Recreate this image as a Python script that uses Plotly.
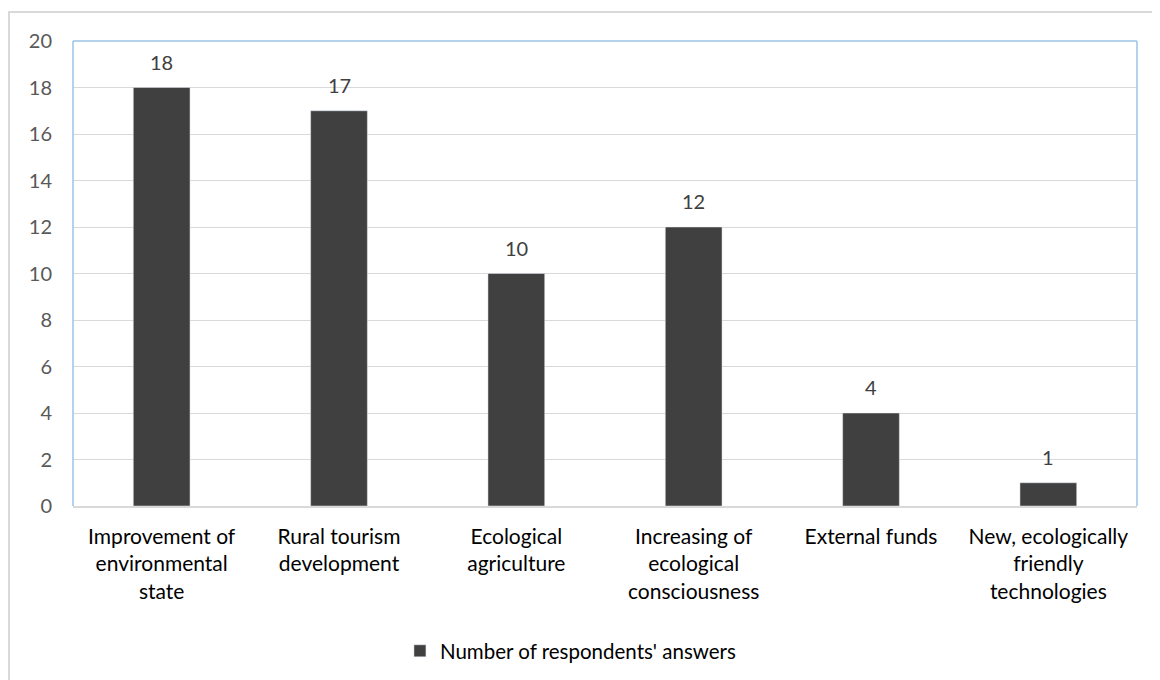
"""Number of respondents' answers by expected benefit"""
import plotly.graph_objects as go

categories = [
    "Improvement of<br>environmental<br>state",
    "Rural tourism<br>development",
    "Ecological<br>agriculture",
    "Increasing of<br>ecological<br>consciousness",
    "External funds",
    "New, ecologically<br>friendly<br>technologies",
]
answers = [18, 17, 10, 12, 4, 1]
y_ticks = list(range(0, 21, 2))

fig = go.Figure(
    go.Bar(
        x=categories,
        y=answers,
        name="Number of respondents' answers",
        marker_color="#404040",
        width=0.32,
    )
)

# data labels above the bars
for cat, val in zip(categories, answers):
    fig.add_annotation(x=cat, y=val, text=str(val), showarrow=False,
                       yanchor="bottom", yshift=12,
                       font=dict(size=20, color="#404040"))

# outer chart frame
fig.add_shape(type="rect", xref="paper", yref="paper",
              x0=-0.0602, x1=1.05, y0=-0.5, y1=1.0624,
              line=dict(color="#D9D9D9", width=2))
# blue plot-area frame (left, top, right)
for x0, y0, x1, y1 in [(0, 0, 0, 1), (0, 1, 1, 1), (1, 0, 1, 1)]:
    fig.add_shape(type="line", xref="paper", yref="paper",
                  x0=x0, y0=y0, x1=x1, y1=y1,
                  line=dict(color="#9DC3E6", width=1.5))

fig.update_xaxes(
    showline=True, linecolor="#D9D9D9", linewidth=1.5,
    tickfont=dict(size=21, color="#000000"),
    ticks="",
    ticklabelstandoff=11,
    automargin=False,
)
fig.update_yaxes(
    range=[0, 20], tickvals=y_ticks,
    showgrid=True, gridcolor="#D9D9D9", gridwidth=1,
    zeroline=False,
    tickfont=dict(size=20, color="#595959"),
    ticklabelstandoff=20,
    automargin=False,
)

fig.update_layout(
    width=1152, height=672,
    margin=dict(l=65, r=23, t=33, b=174),
    paper_bgcolor="white", plot_bgcolor="white",
    font=dict(family="Lato, Open Sans, sans-serif"),
    bargap=0.68,
    showlegend=True,
    legend=dict(orientation="h", x=0.468, y=0.0432, xanchor="center", yanchor="middle",
                xref="paper", yref="container",
                font=dict(size=20.5, color="#000000")),
)

fig.write_html("out.html")
